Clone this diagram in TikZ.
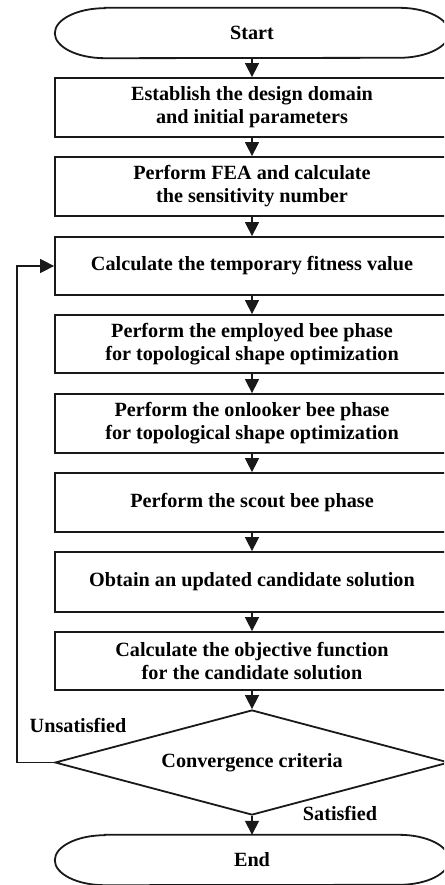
\documentclass[tikz,border=0pt]{standalone}
\usepackage{fontspec}
\setmainfont{Liberation Serif}
\usetikzlibrary{shapes.geometric,arrows.meta}
\begin{document}
\begin{tikzpicture}[x=1pt,y=1pt,
  txt/.style={font=\bfseries\fontsize{20.2}{23}\selectfont, align=center, inner sep=0pt},
  stepbox/.style={txt, draw=black!90, line width=1.8pt, minimum width=394pt, minimum height=59pt},
  term/.style={txt, minimum width=394pt, minimum height=50pt},
  decision/.style={txt, diamond, draw=black!90, line width=1.8pt, minimum width=394pt, minimum height=105pt, aspect=3.75},
  flow/.style={line width=1.5pt, draw=black!90, -{Triangle[width=14pt,length=14pt]}},
  lbl/.style={font=\bfseries\fontsize{20.2}{23}\selectfont, inner sep=0pt}
]
\useasboundingbox (0,0) rectangle (444,-885);
\clip (0,0) rectangle (444,-885);
\fill[white] (0,0) rectangle (444,-885);

\node[term] (start) at (252,-33) {Start};
\draw[black!90, line width=1.8pt]
  ([xshift=50pt]start.north west) -- ([xshift=-50pt]start.north east)
  arc[start angle=90, end angle=-90, x radius=50pt, y radius=25pt]
  -- ([xshift=50pt]start.south west)
  arc[start angle=270, end angle=90, x radius=50pt, y radius=25pt] -- cycle;

\node[stepbox] (b1) at (252,-107.5) {Establish the design domain\\ and initial parameters};
\node[stepbox] (b2) at (252,-186.5) {Perform FEA and calculate\\the sensitivity number};
\node[stepbox, minimum height=58pt] (b3) at (252,-266) {Calculate the temporary fitness value};
\node[stepbox, minimum height=58pt] (b4) at (252,-344) {Perform the employed bee phase\\for topological shape optimization};
\node[stepbox] (b5) at (252,-423.5) {Perform the onlooker bee phase\\for topological shape optimization};
\node[stepbox] (b6) at (252,-502.5) {Perform the scout bee phase};
\node[stepbox, minimum height=60pt] (b7) at (252,-582) {Obtain an updated candidate solution};
\node[stepbox, minimum height=58pt] (b8) at (252,-661) {Calculate the objective function\\for the candidate solution};
\node[decision] (dec) at (252,-762.5) {Convergence criteria};

\node[term] (end) at (252,-860) {End};
\draw[black!90, line width=1.8pt]
  ([xshift=50pt]end.north west) -- ([xshift=-50pt]end.north east)
  arc[start angle=90, end angle=-90, x radius=50pt, y radius=25pt]
  -- ([xshift=50pt]end.south west)
  arc[start angle=270, end angle=90, x radius=50pt, y radius=25pt] -- cycle;

\draw[flow] (start.south) -- (b1.north);
\draw[flow] (b1.south) -- (b2.north);
\draw[flow] (b2.south) -- (b3.north);
\draw[flow] (b3.south) -- (b4.north);
\draw[flow] (b4.south) -- (b5.north);
\draw[flow] (b5.south) -- (b6.north);
\draw[flow] (b6.south) -- (b7.north);
\draw[flow] (b7.south) -- (b8.north);
\draw[flow] (b8.south) -- (dec.north);
\draw[flow] (dec.south) -- (end.north);

\coordinate (lpb) at (17,-762.5);
\coordinate (lpt) at (17,-266);
\draw[flow] (dec.west) -- (lpb) -- (lpt) -- (b3.west);

\node[lbl] (uns) at (78,-725) {Unsatisfied};
\node[lbl] (sat) at (340,-813) {Satisfied};
\end{tikzpicture}
\end{document}
